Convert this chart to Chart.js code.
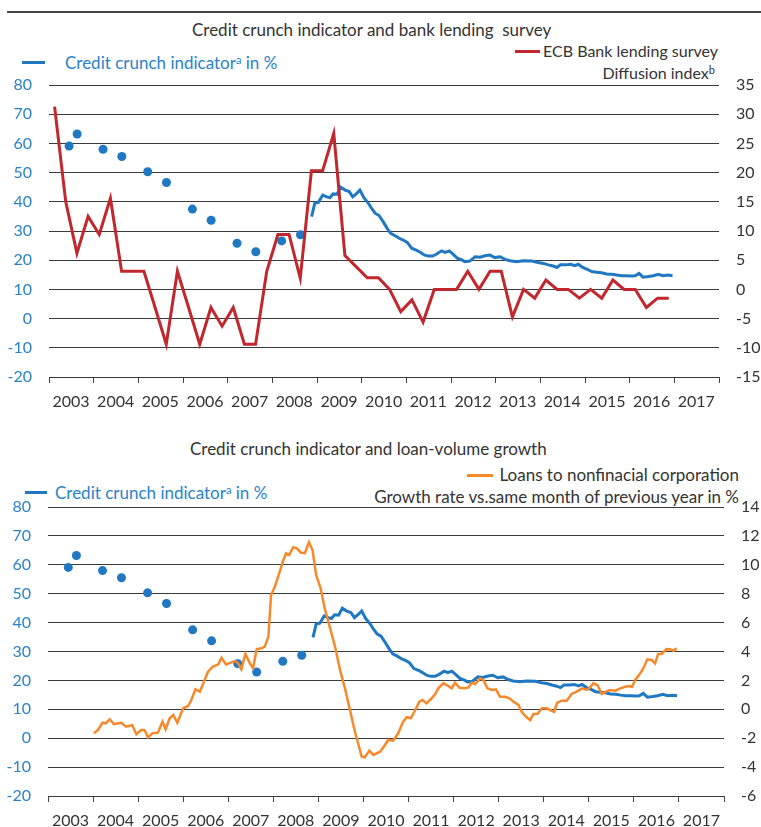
<!DOCTYPE html>
<html>
<head>
<meta charset="utf-8">
<script src="https://cdn.jsdelivr.net/npm/chart.js@4.4.1/dist/chart.umd.min.js"></script>
<style>
  body { margin: 0; width: 761px; height: 827px; overflow: hidden; background: #fff; position: relative;
         font-family: Lato, "Open Sans", sans-serif; color: #333; }
  canvas { position: absolute; left: 0; }
  .t { position: absolute; font-size: 17px; line-height: 20px; white-space: pre; }
  .s16 { font-size: 16px; }
  .k { position: absolute; height: 3px; }
  .blue { color: #2a83c9; }
  sup { font-size: 11px; line-height: 0; vertical-align: 5px; }
</style>
</head>
<body>
<div style="position:absolute;left:7px;top:11px;width:754px;height:2px;background:#444"></div>

<div class="t" style="left:192px;top:20px">Credit crunch indicator and bank lending  survey</div>
<div class="k" style="left:22px;top:61px;width:23px;background:#1f78c1"></div>
<div class="t blue" style="left:65px;top:53px">Credit crunch indicator<sup>a</sup> in %</div>
<div class="k" style="left:515px;top:50px;width:25px;background:#c1272d"></div>
<div class="t s16" style="right:43px;top:41px">ECB Bank lending survey</div>
<div class="t s16" style="right:46px;top:63px">Diffusion index<sup>b</sup></div>
<canvas id="top" width="761" height="420" style="top:0"></canvas>

<div class="t" style="left:190px;top:439px">Credit crunch indicator and loan-volume growth</div>
<div class="k" style="left:25px;top:491px;width:22px;background:#1f78c1"></div>
<div class="t blue" style="left:55px;top:483px">Credit crunch indicator<sup>a</sup> in %</div>
<div class="k" style="left:467px;top:474px;width:26px;background:#f7892a"></div>
<div class="t" style="right:22px;top:465px">Loans to nonfinacial corporation</div>
<div class="t" style="right:22px;top:487px">Growth rate vs.same month of previous year in %</div>
<canvas id="bottom" width="761" height="420" style="top:420px"></canvas>

<script>
// survey dots (credit crunch indicator, before the monthly series)
const dotYears = [2003.45, 2003.63, 2004.21, 2004.63, 2005.21, 2005.63, 2006.21, 2006.63, 2007.21, 2007.63, 2008.21, 2008.63];
const dotValues = [59.1, 63.2, 58.0, 55.5, 50.3, 46.6, 37.5, 33.7, 25.8, 22.9, 26.6, 28.7];

// monthly credit crunch indicator, %
const ccYears = [
  2008.88, 2008.95, 2009.03, 2009.13, 2009.22, 2009.29, 2009.36, 2009.45, 2009.53, 2009.63, 2009.72, 2009.80,
  2009.89, 2009.96, 2010.05, 2010.15, 2010.22, 2010.30, 2010.39, 2010.48, 2010.57, 2010.65, 2010.75, 2010.84,
  2010.93, 2011.02, 2011.12, 2011.22, 2011.31, 2011.40, 2011.49, 2011.59, 2011.68, 2011.79, 2011.87, 2011.96,
  2012.05, 2012.14, 2012.24, 2012.31, 2012.42, 2012.54, 2012.65, 2012.76, 2012.87, 2012.98, 2013.10, 2013.21,
  2013.32, 2013.47, 2013.62, 2013.81, 2013.95, 2014.07, 2014.18, 2014.29, 2014.37, 2014.45, 2014.57, 2014.68,
  2014.77, 2014.85, 2014.94, 2015.05, 2015.15, 2015.26, 2015.37, 2015.48, 2015.60, 2015.71, 2015.82, 2015.93,
  2016.04, 2016.12, 2016.21, 2016.30, 2016.42, 2016.53, 2016.64, 2016.75, 2016.86, 2016.96
];
const ccValues = [
  34.9, 39.5, 39.8, 42.3, 41.7, 41.4, 42.7, 42.6, 45.0, 44.0, 43.5, 41.7,
  42.9, 44.0, 41.4, 39.5, 37.8, 36.1, 35.3, 33.2, 30.9, 29.2, 28.4, 27.5,
  26.9, 26.1, 24.1, 23.5, 22.7, 21.8, 21.4, 21.4, 22.1, 23.2, 22.7, 23.2,
  22.0, 20.7, 20.1, 19.5, 19.7, 21.2, 21.0, 21.5, 21.8, 20.9, 21.2, 20.3,
  19.8, 19.5, 19.8, 19.7, 19.2, 18.9, 18.4, 18.0, 17.5, 18.4, 18.4, 18.6,
  18.1, 18.6, 17.6, 16.9, 16.1, 15.9, 15.7, 15.3, 15.2, 14.9, 14.7, 14.7,
  14.6, 14.7, 15.5, 14.2, 14.4, 14.7, 15.2, 14.7, 14.9, 14.7
];

// ECB bank lending survey, diffusion index (quarterly, mid-quarter)
const blsYears = [
  2003.125, 2003.375, 2003.625, 2003.875, 2004.125, 2004.375, 2004.625, 2004.875,
  2005.125, 2005.375, 2005.625, 2005.875, 2006.125, 2006.375, 2006.625, 2006.875,
  2007.125, 2007.375, 2007.625, 2007.875, 2008.125, 2008.375, 2008.625, 2008.875,
  2009.125, 2009.375, 2009.625, 2009.875, 2010.125, 2010.375, 2010.625, 2010.875,
  2011.125, 2011.375, 2011.625, 2011.875, 2012.125, 2012.375, 2012.625, 2012.875,
  2013.125, 2013.375, 2013.625, 2013.875, 2014.125, 2014.375, 2014.625, 2014.875,
  2015.125, 2015.375, 2015.625, 2015.875, 2016.125, 2016.375, 2016.625, 2016.875
];
const blsValues = [
  31.3, 15.0, 6.2, 12.5, 9.4, 15.6, 3.1, 3.1,
  3.1, -3.1, -9.4, 3.1, -3.1, -9.4, -3.1, -6.3,
  -3.1, -9.4, -9.4, 3.1, 9.4, 9.4, 1.9, 20.3,
  20.3, 26.7, 5.8, 3.9, 2.0, 2.0, 0, -3.8,
  -1.8, -5.6, 0, 0, 0, 3.1, 0, 3.1,
  3.1, -4.7, 0, -1.5, 1.6, 0, 0, -1.5,
  0, -1.5, 1.6, 0, 0, -3.1, -1.5, -1.5
];

// loans to nonfinancial corporations, growth vs same month of previous year, %
const loanYears = [
  2004.02, 2004.11, 2004.21, 2004.28, 2004.37, 2004.46, 2004.63, 2004.73, 2004.87, 2004.96,
  2005.07, 2005.14, 2005.22, 2005.32, 2005.44, 2005.54, 2005.61, 2005.70, 2005.78, 2005.87,
  2006.00, 2006.11, 2006.18, 2006.27, 2006.37, 2006.46, 2006.55, 2006.66, 2006.78, 2006.85,
  2006.95, 2007.07, 2007.15, 2007.22, 2007.29, 2007.38, 2007.48, 2007.55, 2007.63, 2007.74,
  2007.81, 2007.89, 2007.95, 2008.03, 2008.13, 2008.21, 2008.28, 2008.35, 2008.44, 2008.52,
  2008.61, 2008.70, 2008.79, 2008.87, 2008.95, 2009.05, 2009.14, 2009.26, 2009.37, 2009.48,
  2009.59, 2009.70, 2009.81, 2009.88, 2009.96, 2010.03, 2010.13, 2010.22, 2010.29, 2010.37,
  2010.45, 2010.55, 2010.66, 2010.77, 2010.88, 2010.96, 2011.05, 2011.14, 2011.24, 2011.31,
  2011.40, 2011.51, 2011.59, 2011.66, 2011.77, 2011.85, 2011.96, 2012.03, 2012.13, 2012.25,
  2012.33, 2012.40, 2012.48, 2012.59, 2012.66, 2012.75, 2012.85, 2012.94, 2013.03, 2013.14,
  2013.24, 2013.33, 2013.44, 2013.51, 2013.62, 2013.70, 2013.77, 2013.86, 2013.96, 2014.07,
  2014.18, 2014.23, 2014.30, 2014.40, 2014.51, 2014.62, 2014.73, 2014.85, 2014.96, 2015.03,
  2015.10, 2015.19, 2015.29, 2015.38, 2015.47, 2015.59, 2015.70, 2015.81, 2015.88, 2015.96,
  2016.03, 2016.13, 2016.21, 2016.30, 2016.40, 2016.47, 2016.54, 2016.62, 2016.72, 2016.80,
  2016.88, 2016.95
];
const loanValues = [
  -1.66, -1.43, -0.93, -0.97, -0.69, -1.02, -0.93, -1.20, -1.10, -1.73,
  -1.43, -1.43, -1.94, -1.66, -1.62, -0.86, -1.38, -0.62, -0.39, -0.93,
  0.07, 0.23, 0.64, 1.38, 1.22, 1.91, 2.60, 2.95, 3.11, 3.57,
  3.11, 3.25, 3.34, 3.18, 2.77, 3.83, 3.18, 2.84, 4.17, 4.22,
  4.33, 5.02, 7.91, 8.44, 9.41, 10.21, 10.80, 10.68, 11.21, 11.14,
  10.84, 10.80, 11.56, 11.02, 9.29, 8.37, 6.99, 5.60, 4.33, 2.72,
  1.45, -0.05, -1.55, -2.35, -3.28, -3.32, -2.86, -3.16, -3.05, -2.93,
  -2.59, -2.12, -2.17, -1.66, -0.86, -0.55, -0.62, -0.10, 0.53, 0.64,
  0.41, 0.76, 1.04, 1.45, 1.80, 1.68, 1.45, 1.84, 1.49, 1.45,
  1.52, 1.84, 1.75, 2.14, 2.03, 1.45, 1.34, 1.38, 0.87, 0.87,
  0.76, 0.53, 0.30, -0.17, -0.55, -0.74, -0.33, -0.33, 0.07, 0.07,
  -0.10, -0.17, 0.46, 0.60, 0.60, 1.06, 1.22, 1.45, 1.34, 1.52,
  1.80, 1.68, 1.06, 1.22, 1.34, 1.29, 1.45, 1.56, 1.61, 1.56,
  2.03, 2.44, 2.84, 3.46, 3.41, 3.18, 3.83, 3.83, 4.17, 4.15,
  4.05, 4.22
];

const BLUE = "#1f78c1";
const RED = "#c1272d";
const ORANGE = "#f7892a";
const FONT = { family: "Lato", size: 16 };

const pts = (xs, ys) => xs.map((x, i) => ({ x: x, y: ys[i] }));

function makeChart(id, cfg) {
  return new Chart(document.getElementById(id), {
    type: "line",
    data: {
      datasets: [
        {
          data: pts(cfg.rightYears, cfg.rightValues),
          yAxisID: "y2",
          borderColor: cfg.rightColor,
          borderWidth: cfg.rightWidth,
          pointRadius: 0,
          tension: 0,
        },
        {
          data: pts(ccYears, ccValues),
          yAxisID: "y",
          borderColor: BLUE,
          borderWidth: 3,
          pointRadius: 0,
          tension: 0,
        },
        {
          data: pts(dotYears, dotValues),
          yAxisID: "y",
          showLine: false,
          pointRadius: 4.5,
          pointBackgroundColor: BLUE,
          pointBorderWidth: 0,
        },
      ],
    },
    options: {
      responsive: false,
      animation: false,
      devicePixelRatio: 1,
      layout: { padding: { top: cfg.top, left: 0, right: 0, bottom: 0 } },
      plugins: { legend: { display: false }, tooltip: { enabled: false } },
      scales: {
        x: {
          type: "linear",
          min: 2003,
          max: 2018,
          ticks: {
            stepSize: 1,
            autoSkip: false,
            maxRotation: 0,
            color: "#333",
            font: FONT,
            padding: 9,
            labelOffset: cfg.labelOffset,
            callback: (v) => (v < 2018 ? String(v) : ""),
          },
          grid: { drawOnChartArea: false, tickLength: 6, color: "#444" },
          border: { display: false },
          afterFit: (s) => { s.height = cfg.xHeight; },
        },
        y: {
          position: "left",
          min: -20,
          max: 80,
          ticks: { stepSize: 10, color: "#2a83c9", font: FONT, padding: 17 },
          grid: { color: "#3a3a3a", drawTicks: false },
          border: { display: false },
          afterFit: (s) => { s.width = cfg.leftWidth; },
        },
        y2: {
          position: "right",
          min: cfg.rightMin,
          max: cfg.rightMax,
          ticks: { stepSize: cfg.rightStep, color: "#333", font: FONT, padding: 17 },
          grid: { display: false, drawTicks: false },
          border: { display: false },
          afterFit: (s) => { s.width = cfg.rightWidthAxis; },
        },
      },
    },
  });
}

makeChart("top", {
  rightYears: blsYears, rightValues: blsValues, rightColor: RED, rightWidth: 3,
  rightMin: -15, rightMax: 35, rightStep: 5,
  top: 85, xHeight: 43, leftWidth: 49, rightWidthAxis: 42, labelOffset: 22,
});

makeChart("bottom", {
  rightYears: loanYears, rightValues: loanValues, rightColor: ORANGE, rightWidth: 2.5,
  rightMin: -6, rightMax: 14, rightStep: 2,
  top: 87, xHeight: 44, leftWidth: 48, rightWidthAxis: 37, labelOffset: 22.5,
});
</script>
</body>
</html>
